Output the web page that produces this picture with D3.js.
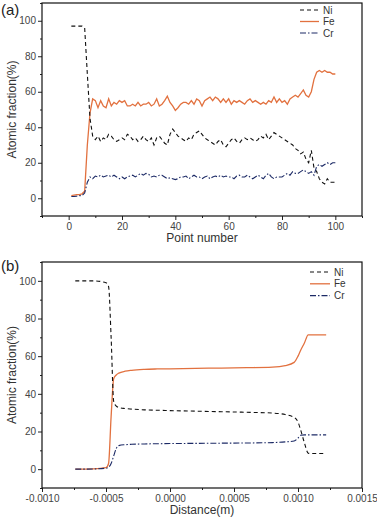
<!DOCTYPE html>
<html>
<head>
<meta charset="utf-8">
<script src="https://cdn.jsdelivr.net/npm/d3@7"></script>
<style>
  body { margin: 0; background: #fff; }
  text { font-family: "Liberation Sans", Arial, sans-serif; }
</style>
</head>
<body>
<div id="chart"></div>
<script>
// ---- data, panel (a): measured points ----
let pointNumbers = d3.range(1, 101)
let niPoints = [97,97,97,97,97,96,70,45,35,33, 35,32,34,33,36,35,33,32,33,34,
  33,36,35,33,34,32,33,35,33,32, 34,30,34,35,33,31,30,36,39,37,
  35,34,33,32,34,33,36,37,38,36, 34,33,32,31,30,32,33,30,29,31,
  33,34,32,31,33,34,33,34,33,32, 33,35,34,36,33,35,37,36,35,34,
  33,32,31,30,28,27,25,26,22,20, 27,17,15,11,9,8,11,9,9,9]
let fePoints = [1.5,1.8,2,2,2.5,4,30,48,56,55, 51,55,52,51,56,52,54,53,55,54,
  55,52,52,53,52,54,52,53,53,54, 52,53,56,52,53,55,57.5,54,52,49.5,
  51,53,54,54,53,55,53,56,55,52, 55,56,57,55,57,56,54,56,54,56,
  53,55,54,55,54,53,55,56,54,55, 54,53,54,53,55,54,57,54,56,54,
  55,53,56,57,58,57,59,61,58,57, 60,67,71,72,71,72,71,71,70,70]
let crPoints = [1,1,1.2,1.5,1.5,3,9,12,11,12.5, 12,13,12,12.5,13,12,13,12,11,12,
  11,12,12.5,13,12,13,14,13,14,13.5, 12,12.5,12,13,13,12,11,11.5,11,10.5,
  11,12,12,12.5,11,12,13,12,12,11, 12,12.5,11,12,12.5,12,13,12,12.5,12,
  12,11,12.5,13,12,12,13,12,11,12, 13,12,11,13,14,12,11,12,12,12,
  13,14,13,15,14,14,15,16,15,14, 15,13,18,19,18,19,20,19,20,20]

// ---- data, panel (b): simulated profile ----
let distance = [-0.00074,-0.0006,-0.0005,-0.00048,-0.00046,-0.00044,-0.00042,-0.0004,
  -0.00035,-0.0003,-0.0002,-0.0001,0,0.0002,0.0004,0.0006,0.0008,0.0009,0.00097,
  0.001,0.00102,0.00105,0.00108,0.0011,0.00122]
let niProfile = [100,100,99,97,70,36,33.5,32.8,32.2,31.9,31.5,31.3,31.1,30.8,30.5,30.2,
  29.8,29,27.5,25,21,14,8.5,8.3,8.3]
let feProfile = [0,0.2,0.8,3,28,48,50,51,52,52.5,53,53.2,53.3,53.5,53.7,53.9,
  54.2,55,56.7,60,63,67,71.3,71.3,71.3]
let crProfile = [0,0.1,0.5,1,3,7,11,12.5,13,13.2,13.4,13.5,13.6,13.7,13.8,13.9,
  14.1,14.5,15,16.5,18,18.2,18.2,18.2,18.2]

let seriesNames = ['Ni', 'Fe', 'Cr']
let yTicks = [0, 20, 40, 60, 80, 100]
let xTicksA = [0, 20, 40, 60, 80, 100]
let xTicksB = [-0.0010, -0.0005, 0.0000, 0.0005, 0.0010, 0.0015]

let styles = {
  Ni: {color: '#111', dash: '4,3', width: 1.1},
  Fe: {color: '#e2713f', dash: null, width: 1.3},
  Cr: {color: '#1c2a66', dash: '6,2,1.5,2', width: 1.1}
}

let svgWidth = 377
let svgHeight = 520

let svg = d3.select('#chart')
  .append('svg')
  .attr('width', svgWidth)
  .attr('height', svgHeight)

function drawPanel(opt) {
  let g = svg.append('g')
    .attr('transform', `translate(${opt.left},${opt.top})`)

  let xScale = d3.scaleLinear().domain(opt.xDomain).range([0, opt.width])
  let yScale = d3.scaleLinear().domain([-10, 110]).range([opt.height, 0])

  // minor ticks first, then major with labels
  g.append('g')
    .attr('transform', `translate(0,${opt.height})`)
    .call(d3.axisBottom(xScale).tickValues(opt.xMinor).tickSize(2).tickFormat(''))
  g.append('g')
    .call(d3.axisLeft(yScale).tickValues(d3.range(-10, 111, 20)).tickSize(2).tickFormat(''))

  g.append('g')
    .attr('class', 'x-axis')
    .attr('transform', `translate(0,${opt.height})`)
    .call(d3.axisBottom(xScale).tickValues(opt.xTicks).tickSize(4).tickPadding(3)
      .tickFormat(opt.xFormat))
  g.append('g')
    .attr('class', 'y-axis')
    .call(d3.axisLeft(yScale).tickValues(yTicks).tickSize(4).tickPadding(2))

  g.selectAll('.domain').remove()
  g.selectAll('.tick line').attr('stroke', '#222')
  g.selectAll('.tick text').attr('fill', '#444').style('font-size', '10px')

  // frame
  g.append('rect')
    .attr('width', opt.width)
    .attr('height', opt.height)
    .attr('fill', 'none')
    .attr('stroke', '#111')
    .attr('stroke-width', 1.2)

  let series = [
    {name: 'Ni', values: opt.ni},
    {name: 'Fe', values: opt.fe},
    {name: 'Cr', values: opt.cr}
  ]

  let line = d3.line()
    .x((d, i) => xScale(opt.x[i]))
    .y(d => yScale(d))
    .curve(opt.curve)

  // draw Fe first so dashed lines sit on top
  g.selectAll('path.series')
    .data([series[1], series[0], series[2]])
    .join('path')
    .attr('class', 'series')
    .attr('d', d => line(d.values))
    .attr('fill', 'none')
    .attr('stroke', d => styles[d.name].color)
    .attr('stroke-width', d => styles[d.name].width)
    .attr('stroke-dasharray', d => styles[d.name].dash)

  // legend
  let legend = g.selectAll('g.legend')
    .data(seriesNames)
    .join('g')
    .attr('class', 'legend')
    .attr('transform', (d, i) => `translate(${opt.legendX},${opt.legendY + i * opt.legendGap})`)
  legend.append('line')
    .attr('x1', 0).attr('x2', opt.legendLen)
    .attr('stroke', d => styles[d].color)
    .attr('stroke-width', d => styles[d].width)
    .attr('stroke-dasharray', d => styles[d].dash)
  legend.append('text')
    .attr('x', opt.legendLen + 4)
    .attr('dy', '0.35em')
    .style('font-size', '10px')
    .attr('fill', '#333')
    .text(d => d)

  // axis titles
  g.append('text')
    .attr('x', opt.width / 2)
    .attr('y', opt.height + 26)
    .attr('text-anchor', 'middle')
    .style('font-size', '12px')
    .attr('fill', '#333')
    .text(opt.xLabel)
  g.append('text')
    .attr('transform', `translate(${-opt.left + 16},${opt.height / 2}) rotate(-90)`)
    .attr('text-anchor', 'middle')
    .style('font-size', '12px')
    .attr('fill', '#333')
    .text('Atomic fraction(%)')

  svg.append('text')
    .attr('x', 1)
    .attr('y', opt.top + opt.tagDy)
    .style('font-size', '15px')
    .attr('fill', '#222')
    .text(opt.tag)
}

drawPanel({
  left: 42, top: 3, width: 320, height: 213,
  xDomain: [-10, 110],
  xTicks: xTicksA,
  xMinor: d3.range(-10, 111, 20),
  xFormat: d3.format('d'),
  x: pointNumbers, ni: niPoints, fe: fePoints, cr: crPoints,
  curve: d3.curveLinear,
  legendX: 258, legendY: 7, legendGap: 11.5, legendLen: 19,
  xLabel: 'Point number',
  tag: '(a)', tagDy: 12
})

drawPanel({
  left: 42, top: 262, width: 320, height: 226,
  xDomain: [-0.001, 0.0015],
  xTicks: xTicksB,
  xMinor: d3.range(-0.00075, 0.0015, 0.0005),
  // plain hyphen for negatives, like the original figure
  xFormat: d => d.toFixed(4),
  x: distance, ni: niProfile, fe: feProfile, cr: crProfile,
  curve: d3.curveMonotoneX,
  legendX: 268, legendY: 10, legendGap: 11.8, legendLen: 20,
  xLabel: 'Distance(m)',
  tag: '(b)', tagDy: 9
})
</script>
</body>
</html>
